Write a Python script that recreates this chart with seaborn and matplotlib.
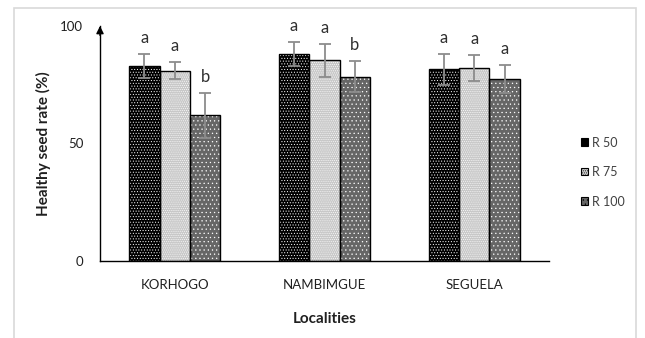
import matplotlib
matplotlib.use("Agg")
import matplotlib.pyplot as plt
import seaborn as sns
import pandas as pd
from matplotlib.patches import Rectangle, Patch

# ---- data ----
localities = ["KORHOGO", "NAMBIMGUE", "SEGUELA"]
treatments = ["R 50", "R 75", "R 100"]
r50 = [83.0, 88.0, 81.5]
r75 = [81.0, 85.5, 82.0]
r100 = [62.0, 78.5, 77.5]
r50_err = [5.0, 5.0, 6.5]
r75_err = [3.5, 7.0, 5.5]
r100_err = [9.5, 6.5, 6.0]
r50_letters = ["a", "a", "a"]
r75_letters = ["a", "a", "a"]
r100_letters = ["b", "b", "a"]
y_ticks = [0, 50, 100]

values = [r50, r75, r100]
errors = [r50_err, r75_err, r100_err]
letters = [r50_letters, r75_letters, r100_letters]

rows = []
for t, vals in zip(treatments, values):
    for loc, v in zip(localities, vals):
        rows.append({"Localities": loc, "Treatment": t, "rate": v})
df = pd.DataFrame(rows)

sns.set_style("white")
plt.rcParams["font.family"] = ["Lato", "DejaVu Sans"]
plt.rcParams["hatch.linewidth"] = 0.4

fig = plt.figure(figsize=(6.45, 3.38), dpi=100)
ax = fig.add_axes([100 / 645, 1 - 261 / 338, 449 / 645, 235 / 338])

sns.barplot(data=df, x="Localities", y="rate", hue="Treatment", order=localities,
            hue_order=treatments, errorbar=None, width=0.61, gap=0, ax=ax,
            legend=False)

faces = ["#000000", "#c8c8c8", "#666666"]
hatches = ["......", "........", "...."]
hcols = ["#ffffff", "#ffffff", "#ffffff"]

bar_conts = list(ax.containers)
for i, cont in enumerate(bar_conts):
    xs = []
    for p in cont.patches:
        p.set_facecolor(faces[i])
        p.set_hatch(hatches[i])
        p.set_edgecolor(hcols[i])
        p.set_linewidth(0)
        ax.add_patch(Rectangle((p.get_x(), p.get_y()), p.get_width(), p.get_height(),
                               fill=False, edgecolor="black", linewidth=1.0, zorder=3))
        xs.append(p.get_x() + p.get_width() / 2)
    ax.errorbar(xs, values[i], yerr=errors[i], fmt="none", ecolor="#8c8c8c",
                elinewidth=1.3, capsize=4, capthick=1.3, zorder=4)
    for x, v, e, lab in zip(xs, values[i], errors[i], letters[i]):
        ax.annotate(lab, (x, v + e), xytext=(0, 8), textcoords="offset points",
                    ha="center", va="baseline", fontsize=12, color="#303030")

ax.set_xlim(-0.5, 2.5)
ax.set_ylim(0, 100)
ax.set_yticks(y_ticks)
ax.set_yticklabels([str(t) for t in y_ticks], fontsize=9.5, color="#202020")
ax.set_xticks(range(len(localities)))
ax.set_xticklabels(localities, fontsize=9.5, color="#202020")
ax.set_xticks([2.5], minor=True)
ax.tick_params(axis="y", direction="inout", length=8, width=1, color="black", pad=8)
ax.tick_params(axis="x", which="major", direction="out", length=4, width=1, color="black", pad=9)
ax.tick_params(axis="x", which="minor", direction="inout", length=7, width=1, color="black")

for s in ["top", "right"]:
    ax.spines[s].set_visible(False)
for s in ["left", "bottom"]:
    ax.spines[s].set_color("black")
    ax.spines[s].set_linewidth(1.0)

ax.annotate("", xy=(0, 1.0), xytext=(0, 0.96), xycoords="axes fraction",
            arrowprops=dict(arrowstyle="-|>", color="black", lw=1, mutation_scale=11,
                            shrinkA=0, shrinkB=0), annotation_clip=False)

ax.set_xlabel("Localities", fontsize=11, fontweight="bold", color="#202020", labelpad=15)
ax.set_ylabel("Healthy seed rate (%)", fontsize=11, fontweight="bold", color="#202020",
              labelpad=7)

handles = [Patch(facecolor=faces[i], hatch=hatches[i], edgecolor=hcols[i], linewidth=0)
           for i in range(3)]
leg = fig.legend(handles, treatments, loc="center left", bbox_to_anchor=(570 / 645, 1 - 172 / 338),
                 frameon=False, fontsize=9, handlelength=0.55, handleheight=0.55,
                 handletextpad=0.3, labelspacing=1.4, labelcolor="#404040")
for h in leg.legend_handles:
    h.set_edgecolor("black")
    h.set_linewidth(0.8)

fig.add_artist(Rectangle((14 / 645, -0.1), 622 / 645, 1.1 - 8 / 338, transform=fig.transFigure,
                         fill=False, edgecolor="#d9d9d9", linewidth=1.2))

fig.savefig("out.png", dpi=100)
